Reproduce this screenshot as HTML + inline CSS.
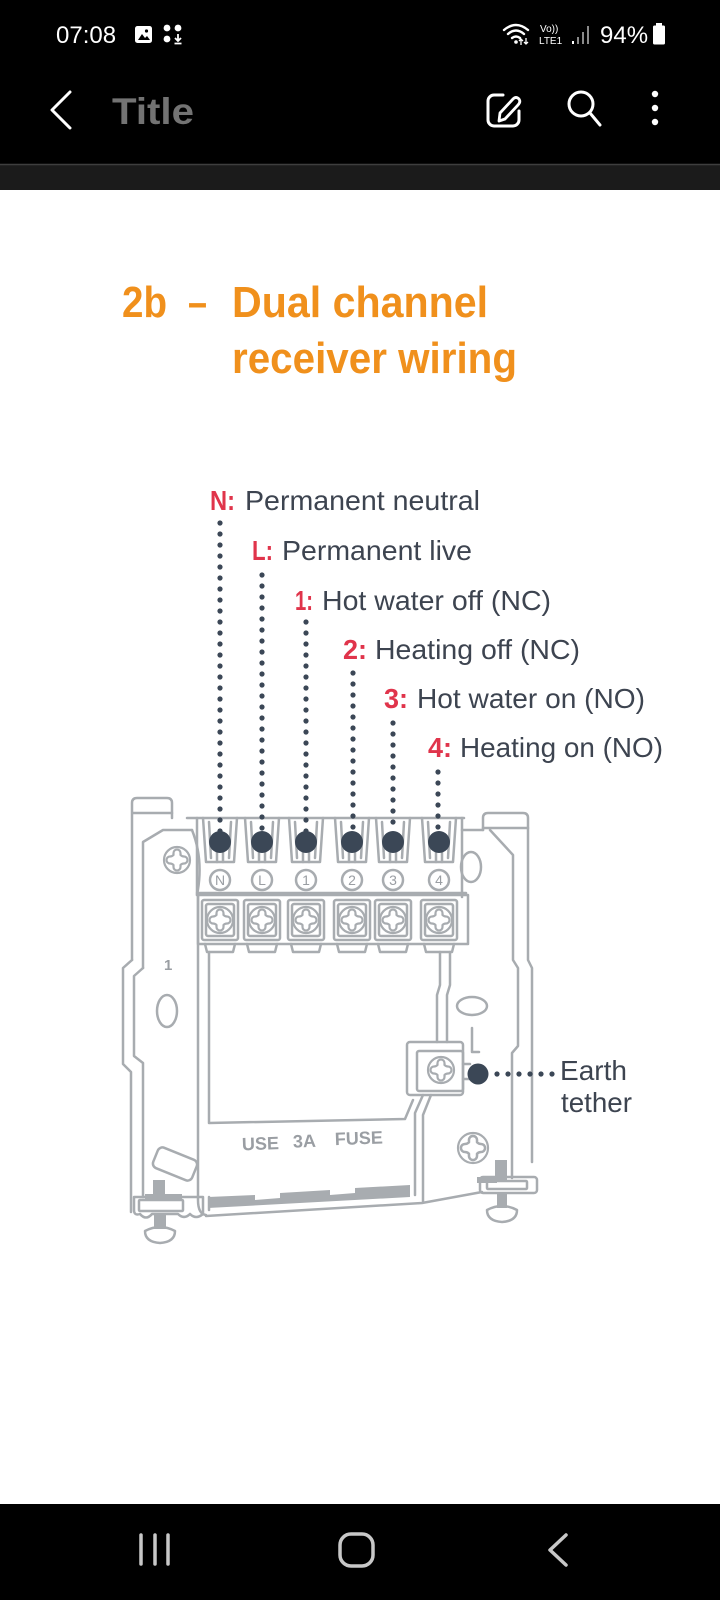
<!DOCTYPE html>
<html><head><meta charset="utf-8"><style>
html,body{margin:0;padding:0;background:#fff;}
svg{display:block;}
</style></head><body>
<svg width="720" height="1600" viewBox="0 0 720 1600" xmlns="http://www.w3.org/2000/svg" font-family="'Liberation Sans', sans-serif">
<defs>
<path id="tx" d="M-3.5,-5 V-7 A3.5,3.5 0 0 1 3.5,-7 V-5 Q5,-3.5 7,-3.5 A3.5,3.5 0 0 1 7,3.5 Q5,3.5 3.5,5 V7 A3.5,3.5 0 0 1 -3.5,7 V5 Q-5,3.5 -7,3.5 A3.5,3.5 0 0 1 -7,-3.5 Q-5,-3.5 -3.5,-5 Z"/>
</defs>
<!-- backgrounds -->
<rect x="0" y="0" width="720" height="1600" fill="#ffffff"/>
<rect x="0" y="0" width="720" height="164" fill="#000"/>
<rect x="0" y="164" width="720" height="26" fill="#1b1b1b"/>
<line x1="0" y1="164.5" x2="720" y2="164.5" stroke="#3e3e3e" stroke-width="1.5"/>
<rect x="0" y="1504" width="720" height="96" fill="#000"/>

<!-- status bar -->
<text x="56" y="43" font-size="24" fill="#fff">07:08</text>
<rect x="135" y="26" width="17" height="17" rx="2.5" fill="#fff"/>
<path d="M138,40 L142,34 L145,38 L147,36 L150,40 Z" fill="#000"/>
<circle cx="146.5" cy="31" r="1.6" fill="#000"/>
<circle cx="167" cy="28" r="3.4" fill="#fff"/>
<circle cx="178" cy="28" r="3.4" fill="#fff"/>
<circle cx="167" cy="39" r="3.4" fill="#fff"/>
<path d="M178,34 V41 M175,38 L178,41 L181,38 M174.5,43.5 H181.5" stroke="#fff" stroke-width="1.8" fill="none"/>
<g fill="none" stroke="#fff" stroke-width="2.4" stroke-linecap="round">
<path d="M504,30 Q516,20 528,30"/>
<path d="M508,34 Q516,27 524,34"/>
<path d="M512,38 Q516,35 520,38"/>
</g>
<circle cx="516" cy="42" r="1.8" fill="#fff"/>
<path d="M521,45 V39 M519,41 L521,39 L523,41 M526,38 V44 M524,42 L526,44 L528,42" stroke="#fff" stroke-width="1.3" fill="none"/>
<text x="540" y="32" font-size="10" fill="#fff">Vo))</text>
<text x="539" y="44" font-size="10" fill="#fff">LTE1</text>
<rect x="572" y="41" width="2" height="3" fill="#fff"/>
<rect x="577" y="37" width="2" height="7" fill="#8a8a8a"/>
<rect x="582" y="32" width="2" height="12" fill="#8a8a8a"/>
<rect x="587" y="26" width="2" height="18" fill="#8a8a8a"/>
<text x="600" y="43" font-size="24" fill="#fff">94%</text>
<rect x="656" y="23" width="6" height="3" fill="#fff"/>
<rect x="653" y="25.5" width="12" height="19" rx="1.5" fill="#fff"/>

<!-- header -->
<polyline points="70,92 52,110 70,128" fill="none" stroke="#fff" stroke-width="3" stroke-linecap="round" stroke-linejoin="round"/>
<text x="112" y="124" font-size="37" font-weight="bold" fill="#737373" textLength="82" lengthAdjust="spacingAndGlyphs">Title</text>
<path d="M503,95 H494 a6,6 0 0 0 -6,6 V120 a6,6 0 0 0 6,6 H513 a6,6 0 0 0 6,-6 V111" fill="none" stroke="#fff" stroke-width="3" stroke-linecap="round"/>
<path d="M499,121 L500,113 L513,99 Q516,96 519,99 Q521,102 518,105 L505,119 Z" fill="none" stroke="#fff" stroke-width="2.8" stroke-linejoin="round"/>
<circle cx="581" cy="104" r="12" fill="none" stroke="#fff" stroke-width="3"/>
<line x1="590" y1="113" x2="600" y2="125" stroke="#fff" stroke-width="3" stroke-linecap="round"/>
<circle cx="655" cy="94" r="3.2" fill="#fff"/>
<circle cx="655" cy="108" r="3.2" fill="#fff"/>
<circle cx="655" cy="122" r="3.2" fill="#fff"/>

<!-- nav bar -->
<g stroke="#c8c8c8" stroke-width="3.5" stroke-linecap="round" fill="none">
<line x1="141" y1="1535" x2="141" y2="1564"/>
<line x1="155" y1="1535" x2="155" y2="1564"/>
<line x1="168" y1="1535" x2="168" y2="1564"/>
<rect x="340" y="1534" width="33" height="32" rx="11"/>
<polyline points="566,1535 550,1550 566,1565" stroke-linejoin="round"/>
</g>

<!-- title -->
<g font-weight="bold" font-size="44" fill="#f0901c">
<text x="122" y="317" textLength="45" lengthAdjust="spacingAndGlyphs">2b</text>
<text x="188" y="317" textLength="19" lengthAdjust="spacingAndGlyphs">–</text>
<text x="232" y="317" textLength="256" lengthAdjust="spacingAndGlyphs">Dual channel</text>
<text x="232" y="373" textLength="285" lengthAdjust="spacingAndGlyphs">receiver wiring</text>
</g>

<!-- labels -->
<g font-size="28">
<text x="210" y="510" font-weight="bold" fill="#e0344b" textLength="25" lengthAdjust="spacingAndGlyphs">N:</text>
<text x="245" y="510" fill="#3d4450" textLength="235" lengthAdjust="spacingAndGlyphs">Permanent neutral</text>
<text x="252" y="560" font-weight="bold" fill="#e0344b" textLength="21" lengthAdjust="spacingAndGlyphs">L:</text>
<text x="282" y="560" fill="#3d4450" textLength="190" lengthAdjust="spacingAndGlyphs">Permanent live</text>
<text x="295" y="610" font-weight="bold" fill="#e0344b" textLength="18" lengthAdjust="spacingAndGlyphs">1:</text>
<text x="322" y="610" fill="#3d4450" textLength="229" lengthAdjust="spacingAndGlyphs">Hot water off (NC)</text>
<text x="343" y="659" font-weight="bold" fill="#e0344b" textLength="24" lengthAdjust="spacingAndGlyphs">2:</text>
<text x="375" y="659" fill="#3d4450" textLength="205" lengthAdjust="spacingAndGlyphs">Heating off (NC)</text>
<text x="384" y="708" font-weight="bold" fill="#e0344b" textLength="24" lengthAdjust="spacingAndGlyphs">3:</text>
<text x="417" y="708" fill="#3d4450" textLength="228" lengthAdjust="spacingAndGlyphs">Hot water on (NO)</text>
<text x="428" y="757" font-weight="bold" fill="#e0344b" textLength="24" lengthAdjust="spacingAndGlyphs">4:</text>
<text x="460" y="757" fill="#3d4450" textLength="203" lengthAdjust="spacingAndGlyphs">Heating on (NO)</text>
<text x="560" y="1080" fill="#3d4450" textLength="67" lengthAdjust="spacingAndGlyphs">Earth</text>
<text x="561" y="1112" fill="#3d4450" textLength="71" lengthAdjust="spacingAndGlyphs">tether</text>
</g>

<!-- device drawing -->
<g fill="none" stroke="#a8acb0" stroke-width="2.5" stroke-linejoin="round" stroke-linecap="round">
<!-- left plate -->
<path d="M132,960 V803 Q132,798 137,798 H167 Q172,798 172,803 V818"/>
<path d="M133,813 H172"/>
<path d="M143,968 V842 L163,830 H192"/>
<path d="M192,830 Q204,860 197,895"/>
<path d="M132,960 L123,968 V1064 L131,1072 V1212"/>
<path d="M143,968 L134,976 V1056 L143,1063 V1197"/>
<ellipse cx="167" cy="1011" rx="10" ry="16"/>
<rect x="154" y="1153" width="42" height="22" rx="5" transform="rotate(22 175 1164)"/>

<!-- terminal housing top -->
<path d="M187,818 H464"/>
<path d="M197,818 V895"/>
<path d="M462,818 V897"/>
<!-- fingers -->
<g>
<path d="M203,818 L206,862 H234 L237,818"/><path d="M209,822 L211,858 M231,822 L229,858 M217,852 V862 M223,852 V862"/>
<path d="M245,818 L248,862 H276 L279,818"/><path d="M251,822 L253,858 M273,822 L271,858 M259,852 V862 M265,852 V862"/>
<path d="M289,818 L292,862 H320 L323,818"/><path d="M295,822 L297,858 M317,822 L315,858 M303,852 V862 M309,852 V862"/>
<path d="M335,818 L338,862 H366 L369,818"/><path d="M341,822 L343,858 M363,822 L361,858 M349,852 V862 M355,852 V862"/>
<path d="M376,818 L379,862 H407 L410,818"/><path d="M382,822 L384,858 M404,822 L402,858 M390,852 V862 M396,852 V862"/>
<path d="M422,818 L425,862 H453 L456,818"/><path d="M428,822 L430,858 M450,822 L448,858 M436,852 V862 M442,852 V862"/>
</g>
<!-- numbered circles -->
<circle cx="220" cy="880" r="10"/>
<circle cx="262" cy="880" r="10"/>
<circle cx="306" cy="880" r="10"/>
<circle cx="352" cy="880" r="10"/>
<circle cx="393" cy="880" r="10"/>
<circle cx="439" cy="880" r="10"/>
<path d="M197,893 H466"/>

<!-- screw block frame -->
<path d="M198,895 H468 V944 H198 Z"/>
<g>
<rect x="202" y="900" width="36" height="40" rx="2"/><rect x="206" y="904" width="28" height="32" rx="2"/>
<rect x="244" y="900" width="36" height="40" rx="2"/><rect x="248" y="904" width="28" height="32" rx="2"/>
<rect x="288" y="900" width="36" height="40" rx="2"/><rect x="292" y="904" width="28" height="32" rx="2"/>
<rect x="334" y="900" width="36" height="40" rx="2"/><rect x="338" y="904" width="28" height="32" rx="2"/>
<rect x="375" y="900" width="36" height="40" rx="2"/><rect x="379" y="904" width="28" height="32" rx="2"/>
<rect x="421" y="900" width="36" height="40" rx="2"/><rect x="425" y="904" width="28" height="32" rx="2"/>
</g>
<path d="M205,944 L207,952 H233 L235,944 M247,944 L249,952 H275 L277,944 M291,944 L293,952 H319 L321,944 M337,944 L339,952 H365 L367,944 M378,944 L380,952 H406 L408,944 M424,944 L426,952 H452 L454,944"/>

<!-- window & body -->
<path d="M198,895 V1200 Q198,1214 206,1215"/>
<path d="M209,952 V1123 L405,1119 L413,1100"/>
<path d="M440,952 V985 L437,995 V1042"/>
<path d="M450,952 V985 L447,995 V1042"/>
<!-- earth clamp -->
<rect x="407" y="1042" width="56" height="53" rx="3"/>
<rect x="417" y="1051" width="46" height="40" rx="2"/>
<path d="M463,1064 H470 M463,1079 H470 M472,1028 V1052 H479"/>
<path d="M423,1095 L415,1113 V1195"/>
<path d="M431,1095 L423,1115 V1202"/>

<!-- bottom edge -->
<path d="M206,1216 L422,1203 L482,1192"/>
<path d="M209,1197 V1210"/>

<!-- right side -->
<path d="M483,830 V818 Q483,813 488,813 H523 Q528,813 528,818 V960 L532,968 V1162"/>
<path d="M462,830 H483"/>
<path d="M483,828 H528"/>
<path d="M490,830 L513,855 V960 L518,968 V1046 L512,1053 V1178"/>
<ellipse cx="471" cy="867" rx="10" ry="15"/>
<ellipse cx="472" cy="1006" rx="15" ry="9"/>

<!-- bottom right bracket -->
<rect x="480" y="1177" width="57" height="16" rx="3"/>
<rect x="487" y="1181" width="40" height="8" rx="1"/>
<path d="M487,1210 Q502,1202 517,1210 Q517,1221 502,1222 Q487,1221 487,1210 Z"/>

<!-- bottom left bracket -->
<path d="M134,1197 H203 V1214 Q196,1220 190,1214 Q184,1220 178,1214 H152 Q146,1221 140,1214 Q134,1216 134,1210 Z"/>
<rect x="139" y="1200" width="44" height="11" rx="1"/>
<path d="M145,1231 Q160,1223 175,1231 Q175,1242 160,1243 Q145,1242 145,1231 Z"/>
</g>

<!-- filled gray parts -->
<g fill="#a8acb0">
<polygon points="208,1197 255,1195 255,1200 280,1198 280,1193 330,1190 330,1195 355,1193 355,1188 410,1185 410,1197 208,1208"/>
<rect x="495" y="1160" width="12" height="22"/>
<rect x="477" y="1177" width="20" height="6"/>
<rect x="497" y="1193" width="10" height="15"/>
<rect x="153" y="1180" width="12" height="20"/>
<rect x="145" y="1194" width="37" height="6"/>
<rect x="154" y="1214" width="12" height="15"/>
</g>

<!-- screws -->
<g fill="none" stroke="#a8acb0" stroke-width="2.2" stroke-linejoin="round">
<g transform="translate(177,860)"><circle r="13"/><use href="#tx"/></g>
<g transform="translate(220,920)"><circle r="13"/><use href="#tx"/></g>
<g transform="translate(262,920)"><circle r="13"/><use href="#tx"/></g>
<g transform="translate(306,920)"><circle r="13"/><use href="#tx"/></g>
<g transform="translate(352,920)"><circle r="13"/><use href="#tx"/></g>
<g transform="translate(393,920)"><circle r="13"/><use href="#tx"/></g>
<g transform="translate(439,920)"><circle r="13"/><use href="#tx"/></g>
<g transform="translate(441,1070)"><circle r="13"/><use href="#tx"/></g>
<g transform="translate(473,1148)"><circle r="15"/><use href="#tx" transform="scale(1.15)"/></g>
</g>

<!-- device text -->
<g fill="#9a9ea3" font-weight="bold">
<g font-size="14" text-anchor="middle" font-weight="normal">
<text x="220" y="885">N</text>
<text x="262" y="885">L</text>
<text x="306" y="885">1</text>
<text x="352" y="885">2</text>
<text x="393" y="885">3</text>
<text x="439" y="885">4</text>
</g>
<text x="164" y="970" font-size="15">1</text>
<g font-size="18" transform="rotate(-2 310 1145)">
<text x="242" y="1148">USE</text>
<text x="293" y="1147">3A</text>
<text x="335" y="1146">FUSE</text>
</g>
</g>

<!-- dotted connectors -->
<g stroke="#3b4756" stroke-width="5.2" stroke-linecap="round" stroke-dasharray="0 11" fill="none">
<line x1="220" y1="523" x2="220" y2="832"/>
<line x1="262" y1="575" x2="262" y2="832"/>
<line x1="306" y1="622" x2="306" y2="832"/>
<line x1="353" y1="673" x2="353" y2="832"/>
<line x1="393" y1="723" x2="393" y2="832"/>
<line x1="438" y1="772" x2="438" y2="832"/>
<line x1="497" y1="1074" x2="553" y2="1074"/>
</g>
<g fill="#3b4756">
<circle cx="220" cy="842" r="11"/>
<circle cx="262" cy="842" r="11"/>
<circle cx="306" cy="842" r="11"/>
<circle cx="352" cy="842" r="11"/>
<circle cx="393" cy="842" r="11"/>
<circle cx="439" cy="842" r="11"/>
<circle cx="478" cy="1074" r="10.5"/>
</g>
</svg>
</body></html>
